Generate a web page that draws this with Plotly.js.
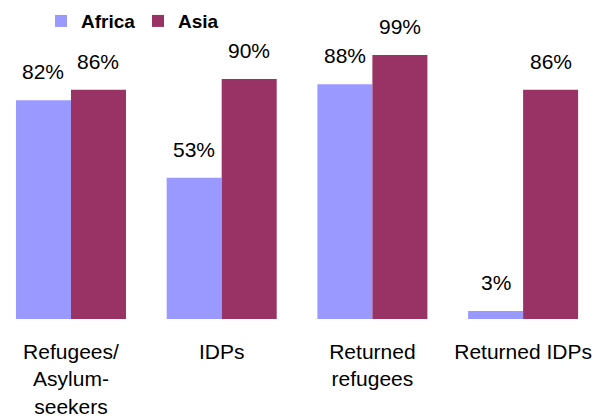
<!DOCTYPE html>
<html>
<head>
<meta charset="utf-8">
<script src="https://cdn.plot.ly/plotly-3.0.1.min.js"></script>
<style>html,body{margin:0;padding:0;background:#fff;}#chart{width:598px;height:419px;}</style>
</head>
<body>
<div id="chart"></div>
<script>
const categories = ["Refugees/<br>Asylum-<br>seekers", "IDPs", "Returned<br>refugees", "Returned IDPs"];
const africa = [82, 53, 88, 3];
const asia = [86, 90, 99, 86];
const seriesNames = ["Africa", "Asia"];
const colors = ["#9999FF", "#993366"];

const font = "Liberation Sans, Arial, sans-serif";
const traces = [africa, asia].map((vals, k) => ({
  type: "bar",
  name: seriesNames[k],
  x: categories,
  y: vals,
  marker: {color: colors[k]},
  hoverinfo: "skip"
}));

const barPx = 27.5;
const annotations = [];
[africa, asia].forEach((vals, k) => {
  vals.forEach((v, i) => {
    annotations.push({
      x: categories[i], y: v, xref: "x", yref: "y",
      text: v + "%", showarrow: false,
      xshift: k === 0 ? -barPx : barPx,
      yanchor: "bottom", yshift: 15,
      font: {family: font, size: 21, color: "#000"}
    });
  });
});

const layout = {
  width: 598, height: 419,
  margin: {l: 0, r: 0, t: 40, b: 100},
  paper_bgcolor: "#fff", plot_bgcolor: "#fff",
  barmode: "group", bargap: 0.27, bargroupgap: 0,
  showlegend: true,
  legend: {
    orientation: "h", xref: "container", yref: "container",
    x: 0.0686, y: 0.995, xanchor: "left", yanchor: "top",
    font: {family: font, size: 19, color: "#000", weight: "bold"},
    itemwidth: 30, tracegroupgap: 0, entrywidth: 52
  },
  xaxis: {
    type: "category", range: [-0.471, 3.497],
    showgrid: false, zeroline: false, showline: false, ticks: "",
    ticklabelstandoff: 18,
    tickfont: {family: font, size: 21, color: "#000"}
  },
  yaxis: {
    range: [0, 104.6], visible: false, showgrid: false, zeroline: false
  },
  annotations: annotations
};

Plotly.newPlot("chart", traces, layout, {displayModeBar: false, staticPlot: true});
</script>
</body>
</html>
